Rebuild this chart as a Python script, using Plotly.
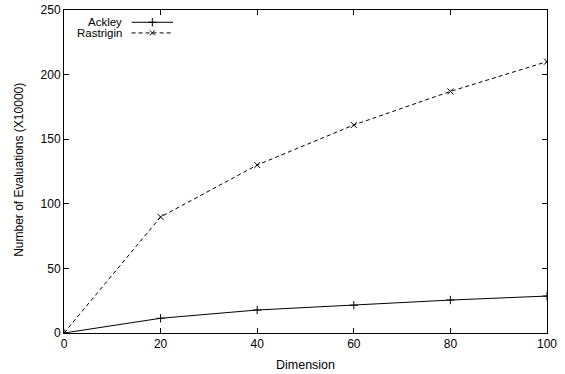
import plotly.graph_objects as go

dimension = [0, 20, 40, 60, 80, 100]
ackley = [0, 11.4, 17.8, 21.5, 25.5, 28.6]
rastrigin = [0, 89.8, 130, 161, 187, 210]
x_ticks = [0, 20, 40, 60, 80, 100]
y_ticks = [0, 50, 100, 150, 200, 250]

family = "Liberation Sans, Arial, sans-serif"
tick_font = dict(family=family, size=12, color="black")
title_font = dict(family=family, size=12.5, color="black")
ytitle_font = dict(family=family, size=12, color="black")
legend_font = dict(family=family, size=11.5, color="black")

fig = go.Figure()
fig.add_trace(go.Scatter(
    x=dimension, y=ackley, mode="lines+markers", name="Ackley",
    line=dict(color="black", width=1),
    marker=dict(symbol="cross-thin-open", size=6, color="black", line=dict(color="black", width=1)),
    showlegend=False,
))
fig.add_trace(go.Scatter(
    x=dimension, y=rastrigin, mode="lines+markers", name="Rastrigin",
    line=dict(color="black", width=1, dash="4px,3px"),
    marker=dict(symbol="x-thin-open", size=6, color="black", line=dict(color="black", width=1)),
    showlegend=False,
))

# gnuplot-style legend: label, then sample line with marker (on an overlay axis 0..1)
legend_items = [("Ackley", "solid", "cross-thin-open", 6, 0.962),
                ("Rastrigin", "4px,3px", "x-thin-open", 5, 0.929)]
x0, x1 = 0.140, 0.2257
for label, dash, sym, sz, yy in legend_items:
    fig.add_trace(go.Scatter(
        x=[x0, x1], y=[yy, yy], xaxis="x2", yaxis="y2", mode="lines",
        line=dict(color="black", width=1, dash=dash), showlegend=False, hoverinfo="skip"))
    fig.add_trace(go.Scatter(
        x=[(x0 + x1) / 2], y=[yy], xaxis="x2", yaxis="y2", mode="markers",
        marker=dict(symbol=sym, size=sz, color="black", line=dict(color="black", width=1)),
        showlegend=False, hoverinfo="skip"))
    fig.add_annotation(text=label, xref="paper", yref="paper", x=0.1222, y=yy,
                       xanchor="right", yanchor="middle", showarrow=False,
                       font=legend_font, borderpad=0)

# y-axis title placed like the gnuplot original
fig.add_annotation(text="Number of Evaluations (X10000)", xref="paper", yref="paper",
                   x=-0.0932, y=0.505, xanchor="center", yanchor="middle",
                   textangle=-90, showarrow=False, font=ytitle_font, borderpad=0)

axis_common = dict(showline=True, linecolor="black", linewidth=1, mirror="ticks",
                   ticks="inside", ticklen=5, tickcolor="black", tickwidth=1,
                   showgrid=False, zeroline=False, tickfont=tick_font)

fig.update_layout(
    width=565, height=374,
    margin=dict(l=64, r=18, t=10, b=41, autoexpand=False),
    paper_bgcolor="white", plot_bgcolor="white",
    font=tick_font,
    xaxis=dict(range=[0, 100], tickvals=x_ticks,
               title=dict(text="Dimension", font=title_font, standoff=9), **axis_common),
    yaxis=dict(range=[0, 250], tickvals=y_ticks, **axis_common),
    xaxis2=dict(range=[0, 1], overlaying="x", visible=False, anchor="y2"),
    yaxis2=dict(range=[0, 1], overlaying="y", visible=False, anchor="x2"),
)

fig.write_html("out.html", config={"displayModeBar": False},
               post_script="document.body.style.margin='0';document.body.style.padding='0';")
